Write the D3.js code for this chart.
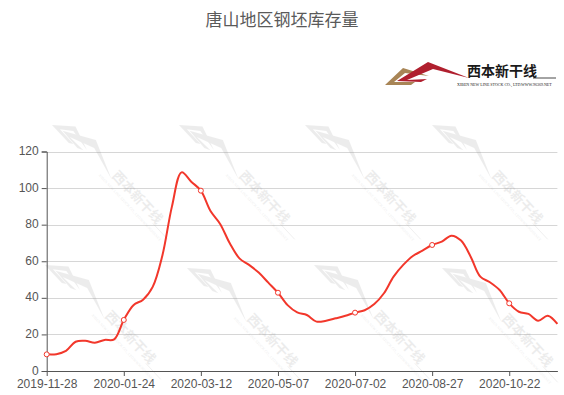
<!DOCTYPE html>
<html>
<head>
<meta charset="utf-8">
<script src="https://cdn.jsdelivr.net/npm/d3@7/dist/d3.min.js"></script>
<style>
  html, body { margin: 0; padding: 0; background: #fff; }
  svg { display: block; }
</style>
</head>
<body>
<div id="chart"></div>
<script>
const WIDTH = 564;
const HEIGHT = 395;

const TITLE = '唐山地区钢坯库存量';

// weekly dates (category axis)
const dates = [
  '2019-11-28', '2019-12-05', '2019-12-12', '2019-12-19', '2019-12-26', '2020-01-02', '2020-01-09', '2020-01-16',
  '2020-01-24', '2020-01-30', '2020-02-06', '2020-02-13', '2020-02-20', '2020-02-24', '2020-02-27', '2020-03-05',
  '2020-03-12', '2020-03-19', '2020-03-26', '2020-04-02', '2020-04-09', '2020-04-16', '2020-04-23', '2020-04-30',
  '2020-05-07', '2020-05-14', '2020-05-21', '2020-05-28', '2020-06-04', '2020-06-11', '2020-06-18', '2020-06-24',
  '2020-07-02', '2020-07-09', '2020-07-16', '2020-07-23', '2020-07-30', '2020-08-06', '2020-08-13', '2020-08-20',
  '2020-08-27', '2020-09-03', '2020-09-10', '2020-09-17', '2020-09-24', '2020-10-01', '2020-10-08', '2020-10-15',
  '2020-10-22', '2020-10-29', '2020-11-05', '2020-11-12', '2020-11-19', '2020-11-26'
];

// stock (万吨)
const stock = [
  9.1, 9.2, 11, 16, 16.5, 15.5, 17, 17.3,
  27.9, 36, 39, 46, 63, 90, 108.6, 103.5,
  98.6, 87.5, 80.4, 69.8, 61.6, 58, 53.8, 48.3,
  42.8, 36, 32, 30.6, 27, 27.5, 28.8, 30.2,
  31.9, 33.2, 36.6, 42.5, 51.6, 58, 62.9, 65.8,
  68.9, 70.7, 74, 71.3, 62.5, 51.6, 48.5, 44.3,
  37, 32.4, 31.2, 27.5, 30.2, 25.7
];

const yTicks = [0, 20, 40, 60, 80, 100, 120];
const LABEL_EVERY = 8;

const margin = { top: 151.5, right: 6.6, bottom: 24, left: 46.7 };
const plotRight = WIDTH - margin.right;
const plotBottom = HEIGHT - margin.bottom;

const svg = d3.select('#chart')
  .append('svg')
  .attr('width', WIDTH)
  .attr('height', HEIGHT);

const x = d3.scalePoint().domain(dates).range([margin.left, plotRight]);
const y = d3.scaleLinear().domain([0, 120]).range([plotBottom, margin.top]);

// title
svg.append('text')
  .attr('x', WIDTH / 2)
  .attr('y', 26)
  .attr('text-anchor', 'middle')
  .attr('font-family', '"Noto Sans CJK SC", sans-serif')
  .attr('font-size', 17)
  .attr('fill', '#5a5a5a')
  .text(TITLE);

// company logo (also reused as watermark)
function drawLogo(g, gray) {
  const brown = gray ? '#888' : '#a88556';
  const red = gray ? '#888' : '#b01f2e';
  const ink = gray ? '#888' : '#1a1a1a';
  g.append('path')
    .attr('d', 'M0,0 L18,-17 L44,-9 L20,-12 L9,-3 L30,-3 L26,0 Z')
    .attr('fill', brown);
  g.append('path')
    .attr('d', 'M12,-4 L43,-23 L84,-7 L48,-16 L22,-5 L42,-6 L36,-3 Z')
    .attr('fill', red);
  g.append('text')
    .attr('x', 82)
    .attr('y', -9)
    .attr('font-family', '"Noto Sans CJK SC", sans-serif')
    .attr('font-weight', 700)
    .attr('font-size', 14)
    .attr('fill', ink)
    .text('西本新干线');
  g.append('line')
    .attr('x1', 148).attr('x2', 171)
    .attr('y1', -7).attr('y2', -7)
    .attr('stroke', ink)
    .attr('stroke-width', 0.8);
  g.append('text')
    .attr('x', 72)
    .attr('y', 0.5)
    .attr('font-family', 'serif')
    .attr('font-size', 4)
    .attr('fill', ink)
    .text('XIBEN NEW LINE STOCK CO., LTD.');
  g.append('text')
    .attr('x', 136)
    .attr('y', 0.5)
    .attr('font-family', 'serif')
    .attr('font-size', 4)
    .attr('fill', ink)
    .text('WWW.96369.NET');
}

drawLogo(svg.append('g').attr('transform', 'translate(385,85)'), false);

// grid lines
svg.append('g')
  .attr('class', 'grid')
  .selectAll('line')
  .data(yTicks.filter((d) => d > 0))
  .enter()
  .append('line')
  .attr('x1', margin.left)
  .attr('x2', plotRight)
  .attr('y1', (d) => Math.round(y(d)) + 0.5)
  .attr('y2', (d) => Math.round(y(d)) + 0.5)
  .attr('stroke', '#d6d6d6')
  .attr('stroke-width', 1);

// watermarks
const marks = [
  [52, 125], [179, 125], [305, 125], [432, 125],
  [45, 265], [187, 268], [314, 265], [442, 268]
];
marks.forEach(([mx, my]) => {
  const g = svg.append('g')
    .attr('transform', `translate(${mx},${my}) rotate(47) scale(0.95)`)
    .attr('opacity', 0.15);
  drawLogo(g, true);
});

// y axis
const yAxis = svg.append('g')
  .attr('transform', `translate(${margin.left},0)`)
  .call(d3.axisLeft(y).tickValues(yTicks).tickSize(5).tickPadding(3));
yAxis.select('.domain').attr('stroke', '#555');
yAxis.selectAll('.tick line').attr('stroke', '#555');
yAxis.selectAll('.tick text')
  .attr('fill', '#555')
  .attr('font-size', 12)
  .attr('dy', '0.25em')
  .attr('font-family', '"Liberation Sans", Arial, sans-serif');

// x axis
const xTickVals = dates.filter((d, i) => i % LABEL_EVERY === 0);
const xAxis = svg.append('g')
  .attr('transform', `translate(0,${plotBottom})`)
  .call(d3.axisBottom(x).tickValues(xTickVals).tickSize(5).tickPadding(3).tickSizeOuter(0));
xAxis.select('.domain').attr('stroke', '#555');
xAxis.selectAll('.tick line').attr('stroke', '#555');
xAxis.selectAll('.tick text')
  .attr('fill', '#555')
  .attr('font-size', 12)
  .attr('font-family', '"Liberation Sans", Arial, sans-serif');

// line
const line = d3.line()
  .x((d, i) => x(dates[i]))
  .y((d) => y(d))
  .curve(d3.curveCatmullRom.alpha(0.5));

svg.append('path')
  .datum(stock)
  .attr('d', line)
  .attr('fill', 'none')
  .attr('stroke', '#f2372b')
  .attr('stroke-width', 2);

// symbols shown at label interval
svg.append('g')
  .selectAll('circle')
  .data(stock.map((v, i) => ({ v, i })).filter((d) => d.i % LABEL_EVERY === 0))
  .enter()
  .append('circle')
  .attr('cx', (d) => x(dates[d.i]))
  .attr('cy', (d) => y(d.v))
  .attr('r', 2.5)
  .attr('fill', '#fff')
  .attr('stroke', '#f2372b')
  .attr('stroke-width', 1);
</script>
</body>
</html>
